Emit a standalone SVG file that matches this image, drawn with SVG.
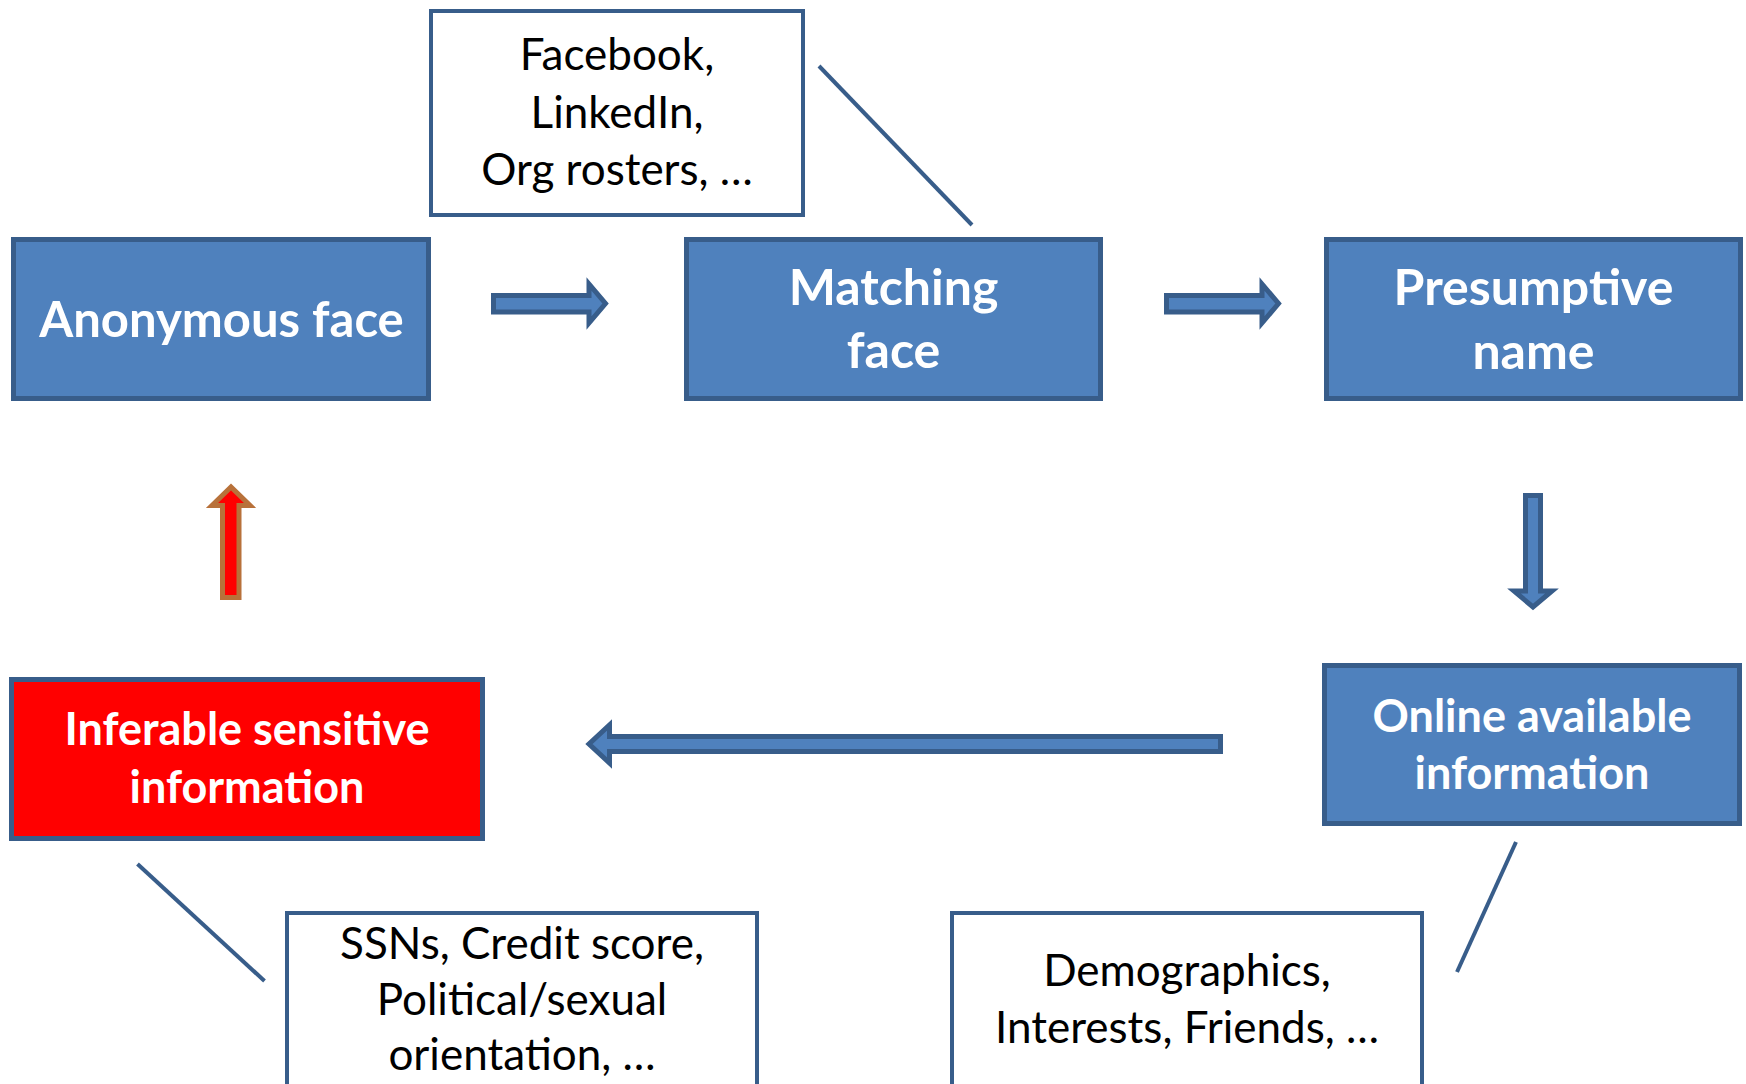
<svg xmlns="http://www.w3.org/2000/svg" width="1746" height="1084" viewBox="0 0 1746 1084">
<style>
.bx{fill:#4F81BD;stroke:#385D8A;stroke-width:5}
.rd{fill:#FF0000;stroke:#385D8A;stroke-width:5}
.wb{fill:#FFFFFF;stroke:#385D8A;stroke-width:4}
.ar{fill:#4F81BD;stroke:#385D8A;stroke-width:5;stroke-linejoin:miter}
.ra{fill:#FF0000;stroke:#B8713A;stroke-width:5}
.ln{stroke:#385D8A;stroke-width:4;fill:none}
.t1{font-family:Lato,"Open Sans",sans-serif;font-weight:bold;fill:#FFFFFF;text-anchor:middle}
.t2{font-family:Lato,"Open Sans",sans-serif;fill:#000000;text-anchor:middle;font-size:44px}
</style>
<rect width="1746" height="1084" fill="#FFFFFF"/>
<g id="connectors">
<path class="ar" d="M493.5,295.5 H589 V284 L605.5,303.5 L589,323 V312 H493.5 Z"/>
<path class="ar" d="M1166.5,295.5 H1262 V284 L1278.5,303.5 L1262,323 V312 H1166.5 Z"/>
<path class="ar" d="M1525.5,495.5 H1540.5 V591 H1552 L1533,607 L1514,591 H1525.5 Z"/>
<path class="ar" d="M1220.5,736.5 H609.5 V725 L589,744 L609.5,763 V751.5 H1220.5 Z"/>
<path class="ra" d="M222.5,597.5 V505.5 H212 L231,487 L250,505.5 H239 V597.5 Z"/>
<line class="ln" x1="819" y1="66" x2="972" y2="225"/>
<line class="ln" x1="137.5" y1="864" x2="264.5" y2="981"/>
<line class="ln" x1="1516" y1="842" x2="1457" y2="972"/>
</g>
<g id="sources">
<rect class="wb" x="431" y="11" width="372" height="204"/>
<text class="t2" x="617" y="70">Facebook,</text>
<text class="t2" x="617" y="128">LinkedIn,</text>
<text class="t2" x="617" y="185">Org rosters, …</text>
</g>
<g id="anonymous-face">
<rect class="bx" x="13.5" y="239.5" width="415" height="159"/>
<text class="t1" x="221.5" y="337" font-size="49">Anonymous face</text>
</g>
<g id="matching-face">
<rect class="bx" x="686.5" y="239.5" width="414" height="159"/>
<text class="t1" x="893.5" y="305" font-size="50">Matching</text>
<text class="t1" x="893.5" y="368" font-size="50">face</text>
</g>
<g id="presumptive-name">
<rect class="bx" x="1326.5" y="239.5" width="414" height="159"/>
<text class="t1" x="1533.5" y="305" font-size="50">Presumptive</text>
<text class="t1" x="1533.5" y="369" font-size="50">name</text>
</g>
<g id="online-info">
<rect class="bx" x="1324.5" y="665.5" width="415" height="158"/>
<text class="t1" x="1532" y="732" font-size="45">Online available</text>
<text class="t1" x="1532" y="789" font-size="45">information</text>
</g>
<g id="inferable-info">
<rect class="rd" x="11.5" y="679.5" width="471" height="159"/>
<text class="t1" x="247" y="745" font-size="45">Inferable sensitive</text>
<text class="t1" x="247" y="803" font-size="45">information</text>
</g>
<g id="sensitive-examples">
<rect class="wb" x="287" y="913" width="470" height="200"/>
<text class="t2" x="522" y="959">SSNs, Credit score,</text>
<text class="t2" x="522" y="1015">Political/sexual</text>
<text class="t2" x="522" y="1070">orientation, …</text>
</g>
<g id="online-examples">
<rect class="wb" x="952" y="913" width="470" height="200"/>
<text class="t2" x="1187" y="986">Demographics,</text>
<text class="t2" x="1187" y="1043">Interests, Friends, …</text>
</g>
</svg>
